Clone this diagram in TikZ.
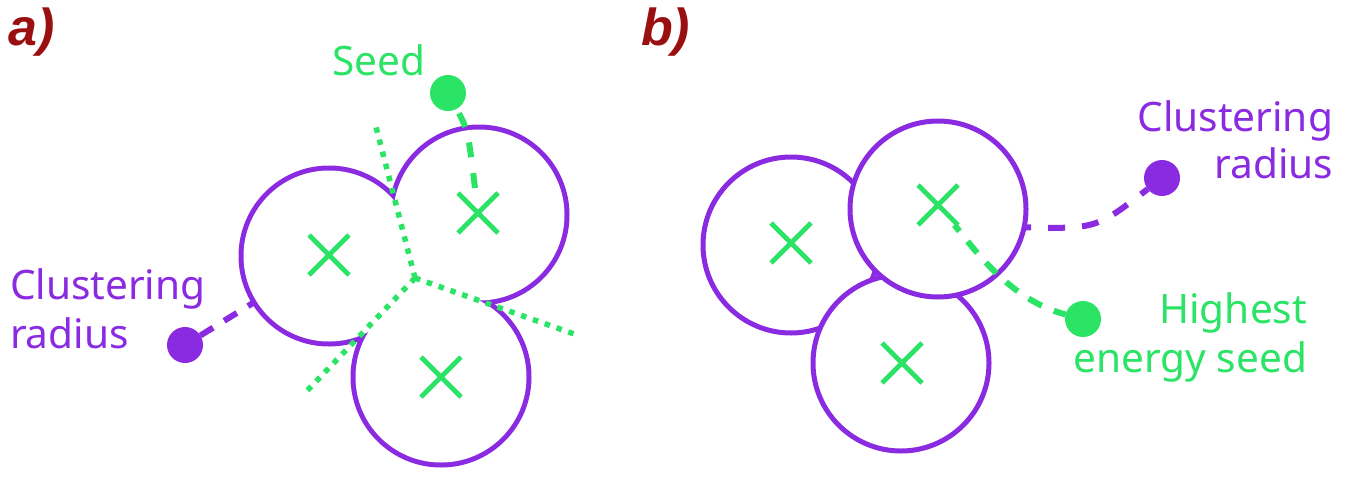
\documentclass[tikz,border=0pt]{standalone}
\usepackage{fontspec}
\setmainfont{Noto Sans}
\newfontfamily\panelfont{Liberation Sans}
\usetikzlibrary{shapes.misc}
\definecolor{vio}{HTML}{8A2BE2}
\definecolor{grn}{HTML}{2BE466}
\definecolor{lbl}{HTML}{9A1010}
\begin{document}
\begin{tikzpicture}[x=1pt,y=-1pt,
  bigc/.style={circle, inner sep=0pt, outer sep=0pt, minimum size=176pt},
  bcirc/.style={bigc, draw=vio, fill=white, line width=5pt},
  cross/.style={cross out, draw=grn, line width=4.8pt, inner sep=0pt, outer sep=0pt, minimum size=40pt},
  vdot/.style={circle, fill=vio, inner sep=0pt, outer sep=0pt, minimum size=36pt},
  gdot/.style={circle, fill=grn, inner sep=0pt, outer sep=0pt, minimum size=36pt},
  voro/.style={draw=grn, line width=5.5pt, dash pattern=on 5.5pt off 7pt},
  vdash/.style={draw=vio, line width=6pt, dash pattern=on 15pt off 13pt},
  gdash/.style={draw=grn, line width=6pt, dash pattern=on 15pt off 16pt},
  lab/.style={font=\fontsize{40.6}{48}\selectfont, inner sep=0pt, outer sep=0pt},
  panel/.style={font=\panelfont\fontsize{52}{52}\selectfont\bfseries\itshape, text=lbl, inner sep=0pt}
]
\useasboundingbox (0,0) rectangle (1346,477);

% ---------- panel a ----------
\node[panel, anchor=base west] (pa) at (8,45) {a)};
\node[bigc] (A1) at (329,256) {};
\node[bigc] (A2) at (479,215) {};
\node[bigc] (A3) at (441,377) {};
\foreach \n in {A1,A2,A3} \draw[vio, line width=10pt] (\n.center) circle[radius=85.5pt];
\foreach \n in {A1,A2,A3} \fill[white] (\n.center) circle[radius=85.5pt];
\fill[white] (A1.center) -- (A2.center) -- (A3.center) -- cycle;

\coordinate (V) at (415,278);
\coordinate (V1) at (375,123);
\coordinate (V2) at (305,393);
\coordinate (V3) at (577,335);
\draw[voro] (V) -- (V1);
\draw[voro] (V) -- (V2);
\draw[voro] (V) -- (V3);

\node[cross] (X1) at (329,255) {};
\node[cross] (X2) at (478,213) {};
\node[cross] (X3) at (441,377) {};

\node[gdot] (sdot) at (448,93) {};
\node[vdot] (adot) at (185,345) {};
\draw[vdash] (adot) -- (A1);
\draw[gdash, dash phase=26pt] (sdot) .. controls (468,130) .. (X2);

\node[lab, text=grn, anchor=base west] (seedlab) at (332,75) {Seed};
\node[lab, text=vio, anchor=base west] (cla1) at (10,299) {Clustering};
\node[lab, text=vio, anchor=base west] (cla2) at (10,348) {radius};

% ---------- panel b ----------
\node[panel, anchor=base west] (pb) at (641,45) {b)};
\node[bcirc] (B1) at (791,245) {};
\node[bcirc] (B2) at (901,363) {};
\node[bcirc] (B3) at (938,209) {};

\node[cross] (Y1) at (791,243) {};
\node[cross] (Y2) at (902,363) {};
\node[cross] (Y3) at (938,205) {};

\node[vdot] (bdot) at (1162,178) {};
\node[gdot] (hdot) at (1083,319) {};
\draw[vdash, dash pattern=on 17pt off 17pt, dash phase=10pt] (B3.-12) .. controls (1096,229) .. (bdot);
\draw[gdash, dash pattern=on 15pt off 13pt, dash phase=7pt] (Y3) .. controls (975,250) and (1010,300) .. (hdot);

\node[lab, text=vio, anchor=base east] (clb1) at (1333,131) {Clustering};
\node[lab, text=vio, anchor=base east] (clb2) at (1333,178) {radius};
\node[lab, text=grn, anchor=base east] (hl1) at (1307,323) {Highest};
\node[lab, text=grn, anchor=base east] (hl2) at (1307,372) {energy seed};
\end{tikzpicture}
\end{document}
